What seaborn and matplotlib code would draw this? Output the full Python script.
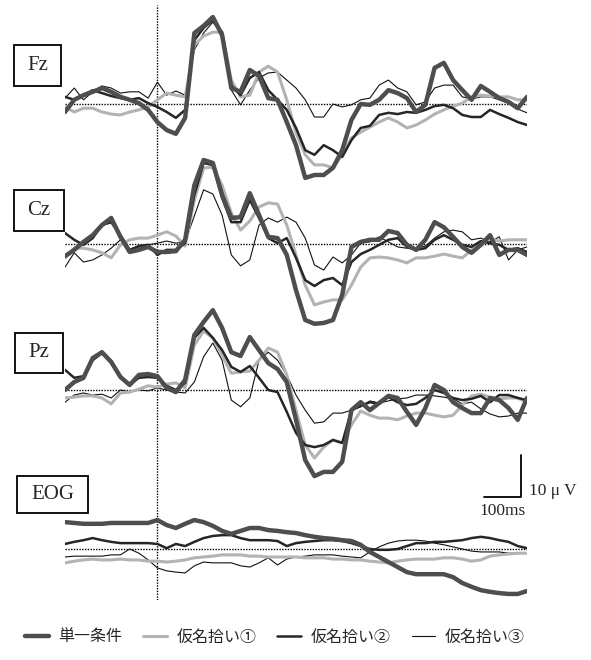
import numpy as np
import pandas as pd
import matplotlib
matplotlib.use('Agg')
from matplotlib import pyplot as plt
from matplotlib.patches import Rectangle
from matplotlib.lines import Line2D
import seaborn as sns

# grand average waveforms, sampled every 25 ms from -250 to 1000 ms (values in uV, up = positive)
times = np.arange(-250, 1001, 25)
conditions = ['単一条件', '仮名拾い①', '仮名拾い②', '仮名拾い③']
channels = ['Fz', 'Cz', 'Pz', 'EOG']

fz_single = [-1.9, 1.0, 2.1, 2.9, 3.8, 2.9, 1.7, 1.0, 0.2, -1.4,
             -4.3, -6.2, -7.1, -3.3, 16.9, 18.6, 20.7, 16.4, 3.8, 2.9,
             8.1, 6.7, 1.4, 1.0, -4.3, -9.8, -17.6, -16.9, -16.9, -15.2,
             -11.0, -3.8, 0.0, -0.2, 1.0, 3.3, 2.6, 1.4, -1.9, -0.2,
             8.6, 9.8, 5.7, 3.3, 1.0, 4.3, 2.9, 1.4, 0.5, -1.0,
             1.7]
fz_kana1 = [-0.7, -1.9, -1.0, -1.0, -1.9, -2.4, -2.6, -1.9, -1.4, -0.7,
            1.0, 2.6, 2.1, 1.7, 14.0, 16.2, 17.1, 17.1, 5.7, 1.7,
            2.1, 7.6, 9.0, 7.6, 1.0, -6.9, -12.1, -14.5, -14.5, -15.2,
            -12.1, -8.1, -6.7, -5.5, -4.3, -3.3, -4.3, -5.7, -5.0, -3.8,
            -2.4, -1.4, -0.5, 0.2, 1.7, 2.1, 1.9, 1.7, 1.7, 1.0,
            1.0]
fz_kana2 = [1.7, 1.0, 2.1, 3.3, 2.6, 1.9, 1.4, 1.0, 1.4, 0.2,
            -0.7, -1.9, -3.3, -1.4, 15.2, 18.1, 20.0, 17.1, 4.5, 2.1,
            6.2, 7.6, 3.3, 1.0, -1.4, -5.7, -11.0, -12.1, -9.8, -11.0,
            -12.6, -8.6, -5.7, -5.2, -2.6, -2.1, -2.4, -1.9, -2.1, -1.4,
            -0.5, -0.2, -1.0, -2.6, -3.1, -3.1, -1.4, -2.4, -3.3, -4.3,
            -5.0]
fz_kana3 = [1.4, 3.8, 1.0, 2.9, 4.3, 3.8, 2.6, 2.9, 2.9, 1.4,
            5.2, 2.1, 3.1, 2.1, 12.9, 16.9, 19.5, 16.4, 3.3, -0.2,
            3.3, 6.2, 7.4, 7.6, 5.7, 3.8, 1.0, -3.1, -3.1, 0.0,
            -0.7, -0.2, 1.0, 1.4, 4.5, 5.7, 3.8, 2.9, -0.2, 0.5,
            3.8, 4.5, 4.5, 1.7, 1.2, 1.7, 1.7, 1.0, 0.2, -1.2,
            -2.1]

cz_single = [-2.9, -1.4, 0.5, 2.1, 4.5, 6.2, 1.7, -1.9, -1.4, -0.7,
             -1.9, -1.9, -1.7, 1.0, 14.0, 20.0, 19.3, 11.7, 6.2, 6.4,
             12.1, 6.9, 1.7, 1.4, -2.6, -11.0, -18.1, -19.0, -18.8, -18.1,
             -12.1, -0.7, 0.5, 1.0, 1.0, 3.1, 2.6, -0.2, -1.4, 1.0,
             5.2, 4.0, 1.7, -0.7, -2.1, -0.2, 2.1, -2.6, -1.4, -1.4,
             -2.6]
cz_kana1 = [-3.3, -1.0, -1.0, -1.4, -2.1, -3.3, -0.2, 1.0, 1.4, 1.4,
            2.1, 2.9, 1.9, -0.5, 10.5, 18.1, 18.3, 14.0, 7.4, 3.3,
            5.5, 8.8, 9.8, 9.5, 4.5, -2.6, -9.8, -14.5, -13.8, -13.3,
            -13.3, -9.8, -5.5, -3.3, -3.1, -3.3, -3.8, -4.5, -3.3, -3.3,
            -2.9, -2.4, -2.9, -3.3, -1.4, -0.2, 1.2, 0.7, 1.0, 1.0,
            1.0]
cz_kana2 = [2.6, 1.0, -0.2, 1.4, 4.5, 5.2, 2.1, -1.4, -0.5, -0.2,
            -2.6, -1.4, -1.4, 0.2, 11.7, 19.3, 18.8, 11.0, 5.2, 5.2,
            10.5, 6.2, 1.4, 0.2, 1.4, -3.3, -8.6, -10.0, -8.6, -8.1,
            -9.8, -4.3, -2.4, -1.4, -0.2, 1.0, 1.4, -0.7, -1.4, -1.0,
            1.0, 2.1, 1.0, -0.2, -0.7, 0.7, 0.2, -0.2, -1.4, -1.0,
            -1.9]
cz_kana3 = [-5.5, -2.1, -4.3, -3.8, -2.6, -1.0, 1.0, -1.4, -0.7, -0.2,
            0.2, 0.7, 0.2, 0.5, 6.7, 12.9, 11.9, 6.9, -2.6, -5.2,
            -3.8, 4.5, 6.2, 5.2, 6.4, 5.2, 1.4, -5.0, -6.2, -3.1,
            -4.5, -2.6, 0.2, 0.5, 1.7, 0.5, -0.7, -1.0, -1.0, -0.5,
            1.4, 2.9, 3.3, 2.9, 1.0, 1.4, 0.5, 1.7, -3.8, -1.4,
            -0.7]

pz_single = [0.0, 1.9, 2.9, 7.6, 9.0, 6.7, 3.1, 1.2, 3.6, 3.8,
             3.3, 0.5, -0.5, 2.4, 13.1, 16.2, 19.0, 14.8, 9.0, 8.1,
             12.6, 9.5, 6.4, 5.0, 1.9, -7.1, -16.7, -20.5, -19.5, -19.5,
             -17.1, -4.8, -2.9, -4.8, -3.1, -1.4, -1.9, -5.2, -8.3, -4.3,
             1.2, 0.0, -2.9, -4.3, -5.5, -5.5, -1.9, -2.4, -4.3, -7.1,
             -1.9]
pz_kana1 = [-1.9, -1.7, -1.4, -1.4, -1.9, -3.3, -0.7, -0.5, 0.2, 1.0,
            0.7, 1.4, 1.7, 0.5, 10.7, 14.0, 12.4, 8.3, 4.0, 4.3,
            4.5, 7.1, 10.0, 9.0, 3.6, -4.8, -13.1, -16.2, -13.6, -11.9,
            -12.6, -8.3, -5.0, -6.0, -6.7, -6.7, -7.1, -6.2, -5.5, -5.5,
            -6.0, -6.4, -6.0, -3.6, -1.4, -1.0, -1.7, -2.1, -1.9, -1.9,
            -2.9]
pz_kana2 = [4.8, 2.9, 3.3, 7.1, 8.8, 6.4, 3.1, 1.2, 2.9, 3.1,
            2.9, 1.0, 0.0, 1.7, 12.4, 14.8, 12.4, 9.5, 5.5, 4.3,
            5.7, 2.9, 0.0, -0.5, -5.2, -10.2, -13.1, -13.6, -13.1, -11.9,
            -12.6, -4.8, -3.8, -2.9, -3.3, -1.7, -2.9, -3.6, -3.3, -1.9,
            0.0, -0.7, -1.9, -2.4, -2.1, -1.4, -2.9, -1.2, -1.2, -1.9,
            -2.4]
pz_kana3 = [-2.9, -1.2, -0.7, -1.2, -1.0, -1.9, 0.0, -0.5, 0.0, -0.2,
            0.5, 0.0, -0.5, -0.7, 1.9, 7.9, 11.2, 7.1, -2.4, -4.0,
            -1.9, 7.1, 9.0, 7.1, 3.6, -1.2, -4.8, -7.9, -7.6, -5.5,
            -5.5, -4.8, -4.0, -2.6, -3.1, -2.6, -2.1, -1.9, -1.2, -1.2,
            -1.4, -1.7, -2.1, -3.3, -2.9, -4.5, -5.7, -6.4, -6.2, -5.5,
            -5.5]

eog_single = [6.4, 6.2, 6.0, 6.0, 6.0, 6.2, 6.2, 6.2, 6.2, 6.2,
              6.9, 5.7, 5.0, 6.0, 6.9, 6.4, 5.5, 4.3, 3.6, 4.3,
              5.0, 5.0, 4.5, 4.3, 4.0, 3.8, 3.3, 2.9, 2.6, 2.4,
              2.1, 1.9, 1.0, -0.7, -1.9, -3.1, -4.3, -5.5, -6.0, -6.0,
              -6.0, -6.0, -6.7, -8.1, -9.0, -9.8, -10.2, -10.5, -10.7, -10.7,
              -10.0]
eog_kana1 = [-3.3, -2.9, -2.6, -2.4, -2.6, -2.6, -2.4, -2.6, -2.6, -2.9,
             -2.9, -3.1, -2.9, -2.6, -2.1, -1.9, -1.7, -1.4, -1.4, -1.4,
             -1.7, -1.7, -1.9, -1.9, -1.9, -1.9, -2.1, -2.1, -2.1, -2.4,
             -2.4, -2.6, -2.6, -2.9, -3.1, -3.3, -2.9, -2.6, -2.4, -2.4,
             -2.4, -2.1, -2.1, -2.4, -2.9, -2.6, -1.7, -1.4, -1.2, -1.0,
             -1.0]
eog_kana2 = [1.2, 1.7, 2.1, 2.6, 2.1, 1.7, 1.4, 1.4, 1.4, 1.4,
             1.2, 0.2, 1.2, 0.7, 1.7, 2.6, 3.1, 3.3, 3.3, 2.6,
             2.1, 2.1, 2.1, 1.9, 0.7, 1.4, 1.7, 1.9, 2.1, 2.1,
             1.9, 1.4, 0.7, 0.0, -0.2, -0.2, 0.0, 0.7, 1.4, 1.4,
             1.7, 1.7, 1.9, 2.1, 2.6, 2.9, 2.6, 2.1, 1.7, 0.7,
             0.2]
eog_kana3 = [-1.9, -1.7, -1.7, -1.7, -1.7, -1.4, -1.4, 0.0, -1.0, -2.6,
             -4.5, -5.2, -5.5, -5.7, -4.0, -3.1, -3.3, -3.3, -3.3, -4.0,
             -4.3, -3.3, -2.1, -3.8, -2.4, -1.9, -1.7, -1.4, -1.4, -1.4,
             -1.7, -1.9, -2.1, -0.7, 0.5, 1.4, 1.9, 2.1, 2.1, 1.9,
             1.4, 1.0, 0.5, 0.0, -0.5, -0.7, -0.7, -0.7, -1.0, -1.0,
             -1.0]

waves = {
    'Fz': [fz_single, fz_kana1, fz_kana2, fz_kana3],
    'Cz': [cz_single, cz_kana1, cz_kana2, cz_kana3],
    'Pz': [pz_single, pz_kana1, pz_kana2, pz_kana3],
    'EOG': [eog_single, eog_kana1, eog_kana2, eog_kana3],
}

palette = {'単一条件': '#4e4e4e', '仮名拾い①': '#b3b3b3', '仮名拾い②': '#262626', '仮名拾い③': '#111111'}
widths = {'単一条件': 3.2, '仮名拾い①': 2.2, '仮名拾い②': 1.8, '仮名拾い③': 0.8}

# layout in pixels of the 591x660 page
W, H = 591, 660
x_left, x_right = 65, 527
y_top, y_bottom = 5, 600
px_per_uv = 4.2
baseline_px = {'Fz': 104, 'Cz': 244, 'Pz': 390, 'EOG': 549}
label_box = {'Fz': (14, 45, 47, 41), 'Cz': (14, 190, 50, 41), 'Pz': (15, 333, 48, 40), 'EOG': (17, 476, 71, 37)}

sns.set_style('white')
plt.rcParams['font.family'] = ['Liberation Serif', 'DejaVu Serif']

fig = plt.figure(figsize=(W / 100, H / 100), dpi=100)
axes = {}
for i, ch in enumerate(channels):
    ax = fig.add_axes([x_left / W, 1 - y_bottom / H, (x_right - x_left) / W, (y_bottom - y_top) / H])
    b = baseline_px[ch]
    ax.set_xlim(-250, 1000)
    ax.set_ylim((b - y_bottom) / px_per_uv, (b - y_top) / px_per_uv)
    ax.axis('off')
    ax.patch.set_alpha(0)
    axes[ch] = ax

    df = pd.DataFrame({
        'time': np.tile(times, 4),
        'uV': np.concatenate(waves[ch]),
        'condition': np.repeat(conditions, len(times)),
    })
    ax.axhline(0, color='black', linestyle=(0, (1, 1)), linewidth=1.0, zorder=1)
    sns.lineplot(data=df, x='time', y='uV', hue='condition', size='condition',
                 hue_order=[conditions[3], conditions[1], conditions[2], conditions[0]],
                 palette=palette, sizes=widths, estimator=None, legend=False, ax=ax, zorder=3)

    bx, by, bw, bh = label_box[ch]
    fig.add_artist(Rectangle((bx / W, 1 - (by + bh) / H), bw / W, bh / H, transform=fig.transFigure,
                             fill=False, edgecolor='black', linewidth=1.3))
    fig.text((bx + bw / 2) / W, 1 - (by + bh / 2) / H, ch, ha='center', va='center', fontsize=15)

# stimulus onset
axes['Fz'].axvline(0, color='black', linestyle=(0, (1, 1)), linewidth=1.0, zorder=1)

# calibration bar: 10 uV / 100 ms, drawn in the Pz axes
ax = axes['Pz']
bar_t, bar_v = 984, -25.5
ax.plot([bar_t - 100, bar_t, bar_t], [bar_v, bar_v, bar_v + 10], color='black', linewidth=1.3, clip_on=False)
ax.text(bar_t + 22, bar_v + 1.5, '10 μ V', ha='left', va='center', fontsize=12.5)
ax.text(bar_t - 50, bar_v - 3.2, '100ms', ha='center', va='center', fontsize=12.5)

# legend
handles = [Line2D([], [], color=palette[c], linewidth=widths[c]) for c in conditions]
fig.legend(handles, conditions, loc='center', bbox_to_anchor=(0.465, 1 - 637 / H), ncol=4, frameon=False,
           prop={'family': ['Noto Sans CJK JP', 'DejaVu Sans'], 'size': 11.5},
           handlelength=1.5, handletextpad=0.6, columnspacing=1.3)

fig.savefig('out.png', dpi=100)
